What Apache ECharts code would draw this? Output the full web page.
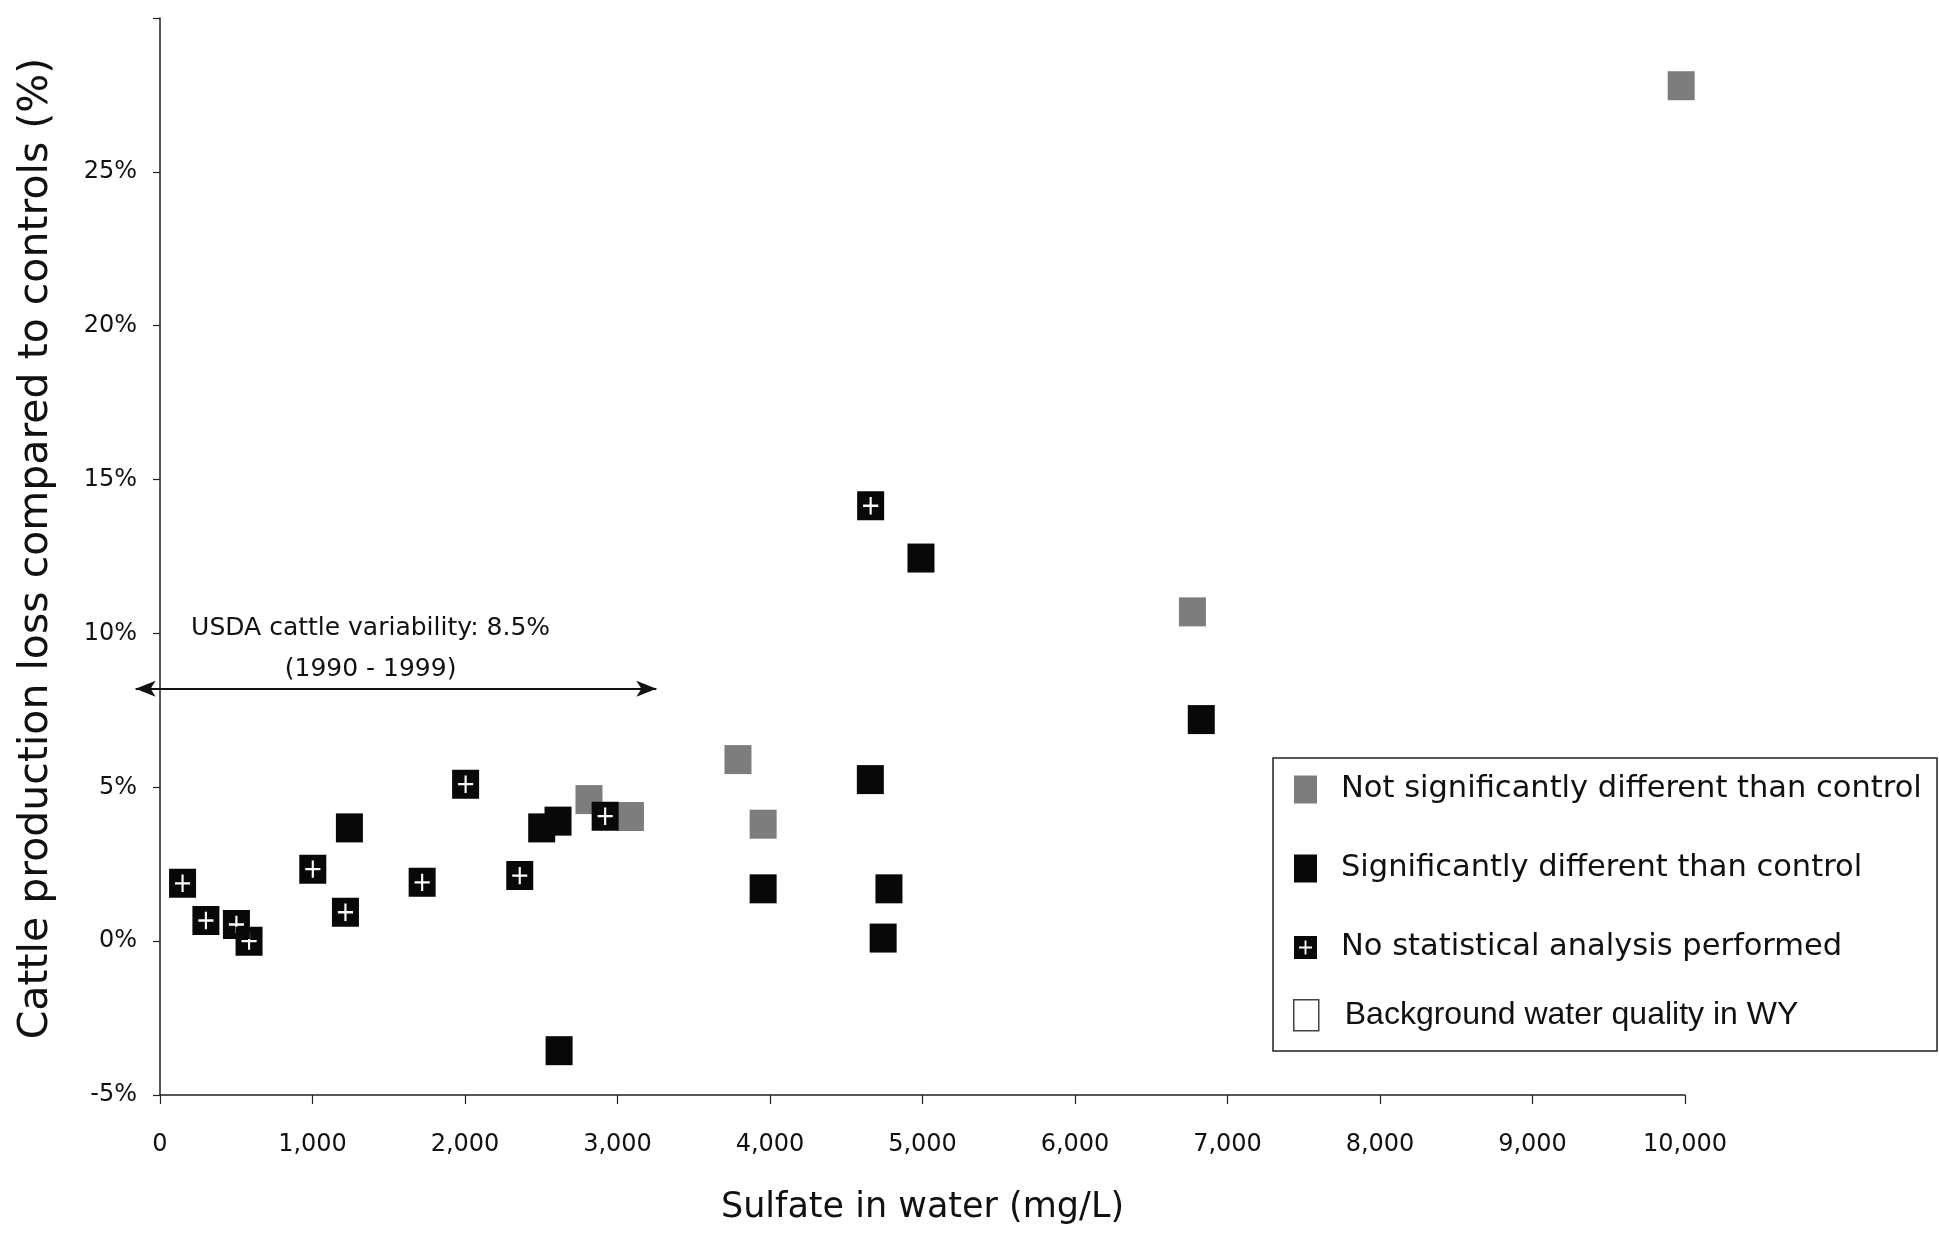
<!DOCTYPE html>
<html>
<head>
<meta charset="utf-8">
<title>Sulfate vs cattle production loss</title>
<script src="https://cdn.jsdelivr.net/npm/echarts@6.0.0/dist/echarts.min.js"></script>
<style>
  html, body { margin: 0; padding: 0; background: #fff; }
  #chart { width: 1939px; height: 1233px; }
</style>
</head>
<body>
<div id="chart"></div>
<script>
// sulfate (mg/L) and production loss (%)
const notSigX = [9975, 6770, 3790, 3955, 2813, 3085];
const notSigY = [27.8, 10.7, 5.9, 3.8, 4.6, 4.05];

const sigX = [4990, 6828, 4658, 3955, 4780, 4742, 1242, 2503, 2610, 2617];
const sigY = [12.45, 7.2, 5.25, 1.7, 1.7, 0.1, 3.68, 3.68, 3.9, -3.56];

const noStatX = [148, 301, 501, 584, 1002, 1216, 1719, 2004, 2359, 2919, 4660];
const noStatY = [1.88, 0.67, 0.54, 0.0, 2.34, 0.94, 1.91, 5.1, 2.13, 4.06, 14.15];

const seriesNames = [
  'Not significantly different than control',
  'Significantly different than control',
  'No statistical analysis performed',
  'Background water quality in WY',
];

// USDA variability band annotation
const usdaLevel = 8.2;
const usdaRange = [-160, 3255];
const usdaNote = ['USDA cattle variability: 8.5%', '(1990 - 1999)'];
const usdaNoteAt = [1381, 9.51];

const xTicks = [0, 10000, 1000];
const yTicks = [-5, 30, 5];

const gothic = '"DejaVu Sans", sans-serif';
const arial = '"Liberation Sans", Arial, sans-serif';

// black square with a white plus punched out of it
const plusSquare = 'path://M0 0H100V100H0Z M46 20L46 46L22 46L22 54L46 54L46 80L54 80L54 54L78 54L78 46L54 46L54 20Z';

const zip = (xs, ys) => xs.map((x, i) => [x, ys[i]]);

const chart = echarts.init(document.getElementById('chart'));

chart.setOption({
  animation: false,
  backgroundColor: '#fff',
  grid: {
    left: 160,
    top: 18,
    width: 1525,
    height: 1077,
    outerBoundsMode: 'none',
  },
  xAxis: {
    type: 'value',
    min: xTicks[0],
    max: xTicks[1],
    interval: xTicks[2],
    name: 'Sulfate in water (mg/L)',
    nameLocation: 'middle',
    nameGap: 95,
    nameTextStyle: { fontFamily: gothic, fontSize: 35, color: '#111' },
    axisLine: { onZero: false, lineStyle: { color: '#222', width: 1.5 } },
    axisTick: { length: 9, lineStyle: { color: '#222', width: 1.2 } },
    axisLabel: {
      margin: 38,
      fontFamily: gothic,
      fontSize: 24,
      color: '#111',
      formatter: (v) => v.toLocaleString('en-US'),
    },
    splitLine: { show: false },
  },
  yAxis: {
    type: 'value',
    min: yTicks[0],
    max: yTicks[1],
    interval: yTicks[2],
    name: 'Cattle production loss compared to controls (%)',
    nameLocation: 'middle',
    nameGap: 103,
    nameTextStyle: { fontFamily: gothic, fontSize: 41, color: '#111', padding: [0, 0, 0, 16] },
    axisLine: { onZero: false, lineStyle: { color: '#222', width: 1.5 } },
    axisTick: { length: 7, lineStyle: { color: '#222', width: 1.2 } },
    axisLabel: {
      margin: 23,
      fontFamily: gothic,
      fontSize: 24,
      color: '#111',
      formatter: (v) => (v === yTicks[1] ? '' : v + '%'),
    },
    splitLine: { show: false },
  },
  legend: [
    {
      orient: 'vertical',
      left: 1294,
      top: 774,
      padding: 0,
      itemWidth: 23,
      itemHeight: 28,
      itemGap: 48,
      selectedMode: false,
      textStyle: {
        fontFamily: gothic,
        fontSize: 30.5,
        color: '#111',
        padding: [0, 0, 0, 19],
      },
      data: [
        { name: seriesNames[0], icon: 'rect' },
        { name: seriesNames[1], icon: 'rect' },
        { name: seriesNames[2], icon: plusSquare },
      ],
    },
    {
      // last entry sits a little tighter and uses a different face
      orient: 'vertical',
      left: 1293,
      top: 999,
      padding: 0,
      itemWidth: 25,
      itemHeight: 31,
      selectedMode: false,
      textStyle: {
        fontFamily: arial,
        fontSize: 32,
        color: '#111',
        padding: [0, 0, 18, 21],
      },
      data: [{
        name: seriesNames[3],
        icon: 'rect',
        itemStyle: { color: '#fff', borderColor: '#111', borderWidth: 1.5 },
      }],
    },
  ],
  graphic: [{
    type: 'rect',
    shape: { x: 1273, y: 758, width: 664, height: 293 },
    style: { fill: 'none', stroke: '#222', lineWidth: 1.5 },
    silent: true,
  }],
  series: [
    {
      name: seriesNames[0],
      type: 'scatter',
      symbol: 'rect',
      symbolSize: [27, 29],
      itemStyle: { color: '#7d7d7d', opacity: 1 },
      data: zip(notSigX, notSigY),
    },
    {
      name: seriesNames[1],
      type: 'scatter',
      symbol: 'rect',
      symbolSize: [27, 29],
      itemStyle: { color: '#080808', opacity: 1 },
      data: zip(sigX, sigY),
    },
    {
      name: seriesNames[2],
      type: 'scatter',
      symbol: plusSquare,
      symbolSize: [27, 29],
      itemStyle: { color: '#080808', opacity: 1 },
      data: zip(noStatX, noStatY),
    },
    {
      name: seriesNames[3],
      type: 'scatter',
      symbol: 'rect',
      itemStyle: { color: '#fff', borderColor: '#111', borderWidth: 1.5 },
      data: [],
    },
    {
      name: 'usda-range',
      type: 'lines',
      coordinateSystem: 'cartesian2d',
      clip: false,
      silent: true,
      symbol: ['arrow', 'arrow'],
      symbolSize: [[12, 20], [12, 20]],
      lineStyle: { color: '#111', width: 2, opacity: 1 },
      data: [{ coords: [[usdaRange[0], usdaLevel], [usdaRange[1], usdaLevel]] }],
    },
    {
      name: 'usda-note',
      type: 'scatter',
      silent: true,
      symbolSize: 1,
      itemStyle: { color: 'rgba(0,0,0,0)', opacity: 1 },
      label: {
        show: true,
        position: 'inside',
        formatter: usdaNote.join('\n'),
        fontFamily: gothic,
        fontSize: 25,
        lineHeight: 41,
        color: '#111',
        opacity: 1,
        align: 'center',
      },
      data: [usdaNoteAt],
    },
  ],
});
</script>
</body>
</html>
